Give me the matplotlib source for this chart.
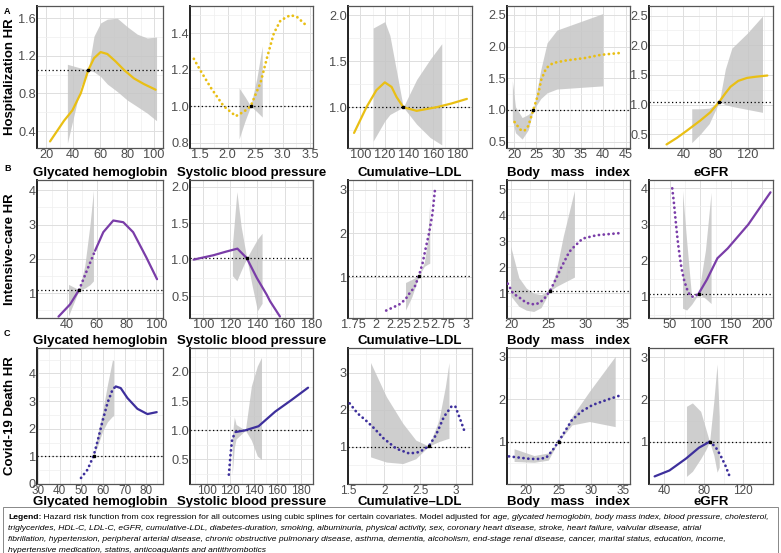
import matplotlib
matplotlib.use("Agg")
import matplotlib.pyplot as plt
from matplotlib.patches import Rectangle
from matplotlib.ticker import AutoMinorLocator, FixedLocator

plt.rcParams["font.family"] = ["Liberation Sans", "DejaVu Sans"]

YELLOW = "#E9BF14"
PURPLE = "#7A3DA8"
INDIGO = "#3D2F9C"

# ---- row A: hospitalization -------------------------------------------------
a1_x = [22.7, 33.1, 39.3, 45.5, 51.2, 55.4, 60.3, 65.3, 71.5, 77.7, 85.1, 92.5, 101.2]
a1_y = [0.29, 0.51, 0.62, 0.80, 1.05, 1.175, 1.24, 1.22, 1.14, 1.05, 0.96, 0.90, 0.84]
a1_ci_x = [35.6, 45.5, 51.2, 55.4, 60.3, 65.3, 72.7, 80.1, 87.6, 95.0, 101.9]
a1_hi = [1.11, 1.07, 1.05, 1.41, 1.55, 1.59, 1.60, 1.51, 1.43, 1.39, 1.40]
a1_lo = [0.27, 0.87, 1.05, 1.03, 0.98, 0.90, 0.82, 0.73, 0.66, 0.59, 0.51]
a1_ref = (51.2, 1.05)

a2_x = [1.39, 1.5, 1.7, 1.93, 2.15, 2.3, 2.42, 2.6, 2.72, 2.84, 2.96, 3.14, 3.26, 3.44]
a2_y = [1.26, 1.20, 1.10, 1.00, 0.945, 0.97, 1.0, 1.13, 1.27, 1.40, 1.47, 1.50, 1.49, 1.44]
a2_ci_x = [2.21, 2.32, 2.42, 2.53, 2.63]
a2_hi = [1.10, 1.05, 1.0, 1.15, 1.33]
a2_lo = [0.82, 0.92, 1.0, 0.97, 0.94]
a2_ref = (2.42, 1.0)

a3_x = [94.8, 105, 113.2, 120.1, 125.7, 129.8, 135.3, 146.3, 154.6, 162.9, 175, 187.7]
a3_y = [0.72, 1.0, 1.185, 1.27, 1.22, 1.11, 1.0, 0.96, 0.98, 1.0, 1.04, 1.09]
a3_ci_x = [110.5, 120.1, 124.3, 135.3, 146.3, 157.4, 167.0]
a3_hi = [1.86, 1.93, 1.78, 1.0, 1.30, 1.52, 1.69]
a3_lo = [0.63, 0.85, 0.92, 1.0, 0.815, 0.67, 0.59]
a3_ref = (135.3, 1.0)

a4_x = [19.1, 20.1, 21.4, 22.3, 23.2, 24.3, 25.4, 26.1, 27.2, 28.7, 31.6, 35.9, 39.5, 43.9]
a4_y = [0.93, 0.81, 0.69, 0.67, 0.75, 1.0, 1.25, 1.48, 1.66, 1.74, 1.78, 1.82, 1.87, 1.90]
a4_ci_x = [19.6, 20.3, 21.8, 23.2, 24.3, 26.0, 27.4, 29.6, 39.9]
a4_hi = [1.46, 1.05, 0.88, 0.93, 1.0, 1.64, 2.06, 2.26, 2.52]
a4_lo = [0.85, 0.64, 0.54, 0.69, 1.0, 1.18, 1.27, 1.33, 1.38]
a4_ref = (24.3, 1.0)

a5_x = [19.2, 32, 44.2, 60.8, 73.3, 84.6, 92, 98.3, 108, 119, 130, 144]
a5_y = [0.33, 0.44, 0.56, 0.73, 0.87, 1.05, 1.19, 1.3, 1.4, 1.45, 1.47, 1.49]
a5_ci_x = [50.4, 60.8, 72, 84.6, 92, 100, 119, 138]
a5_hi = [0.93, 0.93, 0.94, 1.05, 1.6, 1.95, 2.2, 2.49]
a5_lo = [0.36, 0.5, 0.68, 1.05, 1.0, 0.97, 0.92, 0.87]
a5_ref = (84.6, 1.05)

# ---- row B: intensive care --------------------------------------------------
b1_x = [34.4, 42.2, 48.2, 53.3, 58.9, 64.4, 71.1, 77.8, 84.4, 93.3, 100.4]
b1_y = [0.32, 0.68, 1.1, 1.65, 2.24, 2.78, 3.12, 3.07, 2.78, 2.04, 1.41]
b1_ci_x = [41.1, 48.2, 52, 55.5, 57.8]
b1_hi = [1.26, 1.1, 1.8, 3.0, 4.0]
b1_lo = [0.34, 1.1, 1.15, 1.25, 1.36]
b1_ref = (48.2, 1.1)

b2_x = [92.9, 107.6, 117, 125.2, 132.1, 139.5, 146.8, 149.3, 156.6]
b2_y = [1.0, 1.06, 1.11, 1.15, 1.02, 0.75, 0.52, 0.43, 0.22]
b2_ci_x = [121.5, 124.8, 128, 132.1, 136, 140, 143.4]
b2_hi = [1.2, 1.93, 1.45, 1.02, 1.15, 1.28, 1.36]
b2_lo = [0.78, 0.71, 0.85, 1.02, 0.65, 0.3, 0.4]
b2_ref = (132.1, 1.02)

b3_x = [2.115, 2.2, 2.27, 2.33, 2.38, 2.43, 2.46, 2.48, 2.52, 2.55, 2.59, 2.63, 2.66]
b3_y = [0.24, 0.32, 0.39, 0.5, 0.65, 0.77, 0.93, 1.04, 1.32, 1.62, 1.99, 2.45, 3.04]
b3_ci_x = [2.33, 2.4, 2.48, 2.54, 2.58, 2.6]
b3_hi = [0.88, 0.95, 1.04, 1.35, 1.9, 2.75]
b3_lo = [0.25, 0.55, 1.04, 1.25, 1.3, 1.32]
b3_ref = (2.48, 1.04)

b4_x = [19.5, 20.2, 21.3, 22.0, 23.1, 23.8, 24.5, 25.2, 25.9, 26.6, 27.8, 28.5, 29.6, 31.5, 35.0]
b4_y = [1.37, 1.0, 0.79, 0.63, 0.57, 0.63, 0.82, 1.09, 1.49, 1.92, 2.59, 2.80, 3.10, 3.23, 3.32]
b4_ci_x = [19.9, 21, 22, 23, 24, 25.2, 26, 27, 28.5]
b4_hi = [2.8, 1.6, 1.2, 1.0, 0.95, 1.09, 1.8, 3.2, 4.95]
b4_lo = [0.9, 0.5, 0.35, 0.3, 0.45, 1.09, 1.25, 1.4, 1.62]
b4_ref = (25.2, 1.09)

b5_x = [54.4, 56.7, 58.3, 61.1, 63.9, 66.7, 69.4, 73.3, 77.8, 83.3, 88.9, 97.2,
        111, 127.8, 144.4, 177.8, 213.9]
b5_y = [4.0, 3.67, 3.4, 2.91, 2.47, 2.11, 1.80, 1.49, 1.24, 1.04, 1.0, 1.09,
        1.49, 2.07, 2.34, 3.0, 3.89]
b5_ci_x = [71.1, 77.8, 86.1, 97.2, 108.3, 117.5]
b5_hi = [3.94, 2.56, 0.96, 1.09, 2.29, 3.89]
b5_lo = [0.69, 0.64, 0.8, 1.09, 0.96, 0.82]
b5_ref = (97.2, 1.09)

# ---- row C: covid-19 death ------------------------------------------------
c1_x = [49.9, 52.9, 55.7, 57.5, 59.8, 62.1, 64.4, 65.9, 68.2, 71.3, 75.9, 80.5, 84.8]
c1_y = [0.22, 0.52, 1.02, 1.54, 2.27, 2.93, 3.41, 3.53, 3.47, 3.11, 2.72, 2.53, 2.60]
c1_ci_x = [55.7, 57.5, 59.8, 62.1, 64.4, 65.0]
c1_hi = [1.02, 1.78, 2.6, 3.6, 4.49, 4.46]
c1_lo = [1.02, 1.36, 1.9, 2.25, 2.45, 2.47]
c1_ref = (55.7, 1.02)

c2_x = [118.9, 120.3, 121.7, 124.5, 132.9, 144.1, 158.2, 172.1, 186.1]
c2_y = [0.24, 0.59, 0.85, 0.97, 1.0, 1.07, 1.32, 1.52, 1.73]
c2_ci_x = [121.7, 123.5, 125, 132.9, 138, 143, 146.6]
c2_hi = [0.88, 1.23, 1.1, 1.0, 1.76, 2.1, 2.25]
c2_lo = [0.24, 0.7, 0.85, 1.0, 0.83, 0.56, 0.5]
c2_ref = None

c3_x = [1.52, 1.63, 1.74, 1.86, 1.99, 2.17, 2.35, 2.49, 2.62, 2.72, 2.83, 2.94, 2.99, 3.06, 3.11]
c3_y = [2.17, 1.9, 1.72, 1.5, 1.23, 0.95, 0.82, 0.86, 1.02, 1.32, 1.81, 2.1, 2.08, 1.72, 1.45]
c3_ci_x = [1.81, 2.03, 2.26, 2.44, 2.62, 2.76, 2.85, 2.90]
c3_hi = [3.27, 2.35, 1.63, 1.18, 1.02, 1.72, 2.62, 3.27]
c3_lo = [0.73, 0.59, 0.55, 0.68, 1.02, 1.14, 1.2, 1.23]
c3_ref = (2.62, 1.02)

c4_x = [17.3, 19.0, 20.6, 22.0, 23.1, 24.1, 25.0, 26.0, 27.1, 28.7, 30.3, 32.5, 34.9]
c4_y = [0.65, 0.62, 0.59, 0.59, 0.62, 0.80, 1.0, 1.24, 1.51, 1.72, 1.86, 1.98, 2.10]
c4_ci_x = [18.1, 21.2, 23.4, 25.0, 27.1, 29.8, 33.8]
c4_hi = [0.83, 0.67, 0.73, 1.0, 1.59, 2.18, 3.0]
c4_lo = [0.53, 0.51, 0.56, 1.0, 1.39, 1.47, 1.35]
c4_ref = (25.0, 1.0)

c5_x = [30, 45, 61.7, 75, 85.7, 91.7, 96.7, 101.7, 105.7]
c5_y = [0.18, 0.32, 0.6, 0.86, 1.0, 0.88, 0.68, 0.44, 0.2]
c5_ci_x = [62.3, 68.3, 76.7, 81.7, 85.7, 90, 93.3, 95.5]
c5_hi = [1.84, 1.92, 1.72, 1.32, 1.0, 1.96, 2.84, 1.6]
c5_lo = [0.18, 0.3, 0.6, 0.8, 1.0, 0.68, 0.28, 0.4]
c5_ref = (85.7, 1.0)

ROW_LABELS = ["Hospitalization HR", "Intensive-care HR", "Covid-19 Death HR"]
COL_TITLES = ["Glycated hemoglobin", "Systolic blood pressure", "Cumulative\u2013LDL",
              "Body   mass   index", "eGFR"]

# (x, y, ci_x, hi, lo, ref, hline, segments)
PANELS = [
    [(a1_x, a1_y, a1_ci_x, a1_hi, a1_lo, a1_ref, 1.05, [("-", 0, None)]),
     (a2_x, a2_y, a2_ci_x, a2_hi, a2_lo, a2_ref, 1.0, [(":", 0, None)]),
     (a3_x, a3_y, a3_ci_x, a3_hi, a3_lo, a3_ref, 1.0, [("-", 0, None)]),
     (a4_x, a4_y, a4_ci_x, a4_hi, a4_lo, a4_ref, 1.0, [(":", 1, None)]),
     (a5_x, a5_y, a5_ci_x, a5_hi, a5_lo, a5_ref, 1.05, [("-", 0, None)])],
    [(b1_x, b1_y, b1_ci_x, b1_hi, b1_lo, b1_ref, 1.1, [("-", 0, 3), (":", 2, 5), ("-", 4, None)]),
     (b2_x, b2_y, b2_ci_x, b2_hi, b2_lo, b2_ref, 1.02, [("-", 0, None)]),
     (b3_x, b3_y, b3_ci_x, b3_hi, b3_lo, b3_ref, 1.04, [(":", 0, None)]),
     (b4_x, b4_y, b4_ci_x, b4_hi, b4_lo, b4_ref, 1.09, [(":", 0, None)]),
     (b5_x, b5_y, b5_ci_x, b5_hi, b5_lo, b5_ref, 1.09, [(":", 0, 12), ("-", 11, None)])],
    [(c1_x, c1_y, c1_ci_x, c1_hi, c1_lo, c1_ref, 1.02, [(":", 0, 8), ("-", 7, None)]),
     (c2_x, c2_y, c2_ci_x, c2_hi, c2_lo, c2_ref, 1.0, [(":", 0, 4), ("-", 3, None)]),
     (c3_x, c3_y, c3_ci_x, c3_hi, c3_lo, c3_ref, 1.0, [(":", 0, None)]),
     (c4_x, c4_y, c4_ci_x, c4_hi, c4_lo, c4_ref, 1.0, [(":", 0, None)]),
     (c5_x, c5_y, c5_ci_x, c5_hi, c5_lo, c5_ref, 1.0, [("-", 0, 5), (":", 4, None)])],
]

# axis limits / ticks / tick formats per panel
AXES = [
    [((13, 106.7), (0.22, 1.73), [20, 40, 60, 80, 100], [0.4, 0.8, 1.2, 1.6], "%g", "%.1f"),
     ((1.32, 3.55), (0.77, 1.55), [1.5, 2.0, 2.5, 3.0, 3.5], [0.8, 1.0, 1.2, 1.4], "%.1f", "%.1f"),
     ((89.8, 191.9), (0.556, 2.10), [100, 120, 140, 160, 180], [1.0, 1.5, 2.0], "%g", "%.1f"),
     ((18.4, 46), (0.4, 2.64), [20, 25, 30, 35, 40, 45], [0.5, 1.0, 1.5, 2.0, 2.5], "%g", "%.1f"),
     ((-2.5, 151), (0.27, 2.66), [40, 80, 120], [0.5, 1.0, 1.5, 2.0, 2.5], "%g", "%.1f")],
    [((20, 104.4), (0.28, 4.3), [40, 60, 80, 100], [1, 2, 3, 4], "%g", "%g"),
     ((90.2, 181), (0.2, 2.09), [100, 120, 140, 160, 180], [0.5, 1.0, 1.5, 2.0], "%g", "%.1f"),
     ((1.69, 3.07), (0.07, 3.22), [1.75, 2, 2.25, 2.5, 2.75, 3], [1, 2, 3], "%g", "%g"),
     ((19.4, 36.0), (0.05, 5.35), [20, 25, 30, 35], [0, 1, 2, 3, 4, 5], "%g", "%g"),
     ((16.7, 218), (0.42, 4.23), [50, 100, 150, 200], [1, 2, 3, 4], "%g", "%g")],
    [((29.6, 87.7), (0.0, 4.92), [30, 40, 50, 60, 70, 80], [0, 1, 2, 3, 4], "%g", "%g"),
     ((85.9, 190.3), (0.08, 2.41), [100, 120, 140, 160, 180], [0.5, 1.0, 1.5, 2.0], "%g", "%.1f"),
     ((1.497, 3.22), (0.0, 3.66), [1.5, 2, 2.5, 3], [1, 2, 3], "%g", "%g"),
     ((17.0, 36.1), (0.0, 3.2), [20, 25, 30, 35], [1, 2, 3], "%g", "%g"),
     ((24.3, 150), (0.0, 3.22), [40, 80, 120], [1, 2, 3], "%g", "%g")],
]

COLORS = [YELLOW, PURPLE, INDIGO]
COLS_PX = [(37, 163), (190, 313), (348, 472), (507, 630), (649, 773)]
ROWS_PX = [(6, 148), (180, 318), (348, 484)]
W, H = 781, 553


def style_axis(ax, lims, xsize):
    xlim, ylim, xt, yt, xf, yf = lims
    ax.set_xlim(*xlim)
    ax.set_ylim(*ylim)
    ax.xaxis.set_major_locator(FixedLocator(xt))
    ax.yaxis.set_major_locator(FixedLocator(yt))
    ax.set_xticklabels([xf % v for v in xt])
    ax.set_yticklabels([yf % v for v in yt])
    ax.xaxis.set_minor_locator(AutoMinorLocator(2))
    ax.yaxis.set_minor_locator(AutoMinorLocator(2))
    ax.grid(which="major", color="#DEDEDE", linewidth=0.7)
    ax.grid(which="minor", color="#EFEFEF", linewidth=0.5)
    ax.set_axisbelow(True)
    ax.tick_params(which="both", length=0, labelsize=9.2, colors="#4D4D4D", pad=0.8)
    ax.tick_params(axis="x", labelsize=xsize, pad=1)
    for side in ["top", "right", "bottom"]:
        ax.spines[side].set_color("#555555")
        ax.spines[side].set_linewidth(0.9)
    ax.spines["left"].set_color("#222222")
    ax.spines["left"].set_linewidth(1.4)


def draw_panel(ax, panel, color):
    x, y, ci_x, hi, lo, ref, hline, segs = panel
    ax.fill_between(ci_x, lo, hi, color="#C6C6C6", alpha=0.85, linewidth=0, zorder=1)
    ax.axhline(hline, color="black", linestyle=(0, (1, 2)), linewidth=0.9, zorder=2)
    for ls, i0, i1 in segs:
        xs, ys = x[i0:i1], y[i0:i1]
        if ls == ":":
            ax.plot(xs, ys, color=color, linewidth=2.0, linestyle=(0, (0.05, 1.7)),
                    dash_capstyle="round", zorder=3)
        else:
            ax.plot(xs, ys, color=color, linewidth=1.6, solid_capstyle="round", zorder=3)
    if ref is not None:
        ax.plot([ref[0]], [ref[1]], marker="s", markersize=2.0, color="black", zorder=4)


def add_legend(fig):
    fig.patches.append(Rectangle((3 / W, 0), 775 / W, 46 / H, transform=fig.transFigure,
                                 fill=False, edgecolor="#888888", linewidth=0.7))
    lax = fig.add_axes([0, 0, 1, 1])
    lax.axis("off")
    lines = [
        [("Legend:", "normal", "bold"),
         (" Hazard risk function from cox regression for all outcomes using cubic splines for certain covariates. Model adjusted for ", "normal", "normal"),
         ("age, glycated hemoglobin, body mass index, blood pressure, cholesterol,", "italic", "normal")],
        [("triglycerides, HDL-C, LDL-C, eGFR, cumulative-LDL, diabetes-duration, smoking, albuminuria, physical activity, sex, coronary heart disease, stroke, heart failure, valvular disease, atrial", "italic", "normal")],
        [("fibrillation, hypertension, peripheral arterial disease, chronic obstructive pulmonary disease, asthma, dementia, alcoholism, end-stage renal disease, cancer, marital status, education, income,", "italic", "normal")],
        [("hypertensive medication, statins, anticoagulants and antithrombotics", "italic", "normal")],
    ]
    y0 = 519
    size = 6.12
    for k, pieces in enumerate(lines):
        yb = 1 - (y0 + 11 * k) / H
        s, st, wt = pieces[0]
        t = lax.text(8 / W, yb, s, fontsize=size, style=st, weight=wt, va="baseline",
                     transform=fig.transFigure)
        for s, st, wt in pieces[1:]:
            t = lax.annotate(s, xy=(1, 0), xycoords=t, fontsize=size, style=st, weight=wt,
                             va="bottom", ha="left")


def main():
    fig = plt.figure(figsize=(W / 100, H / 100), dpi=100)
    for r, row in enumerate(PANELS):
        top, bottom = ROWS_PX[r]
        for c, panel in enumerate(row):
            left, right = COLS_PX[c]
            ax = fig.add_axes([left / W, 1 - bottom / H, (right - left) / W, (bottom - top) / H])
            style_axis(ax, AXES[r][c], 8.5 if r == 2 else 9.2)
            draw_panel(ax, panel, COLORS[r])
            if r > 0:
                ax.set_title(COL_TITLES[c], fontsize=9.5, fontweight="bold", pad=3)
            if r == 2:
                ax.set_xlabel(COL_TITLES[c], fontsize=9.5, fontweight="bold", labelpad=-1)
        fig.text(10 / W, 1 - ((top + bottom) / 2) / H, ROW_LABELS[r], rotation=90,
                 fontsize=9.5, fontweight="bold", ha="center", va="center")
    for letter, ypx in zip("ABC", [12, 168, 334]):
        fig.text(4 / W, 1 - ypx / H, letter, fontsize=6.5, fontweight="bold", va="center")
    add_legend(fig)
    fig.savefig("out.png", dpi=100)
    plt.close(fig)


if __name__ == "__main__":
    main()
